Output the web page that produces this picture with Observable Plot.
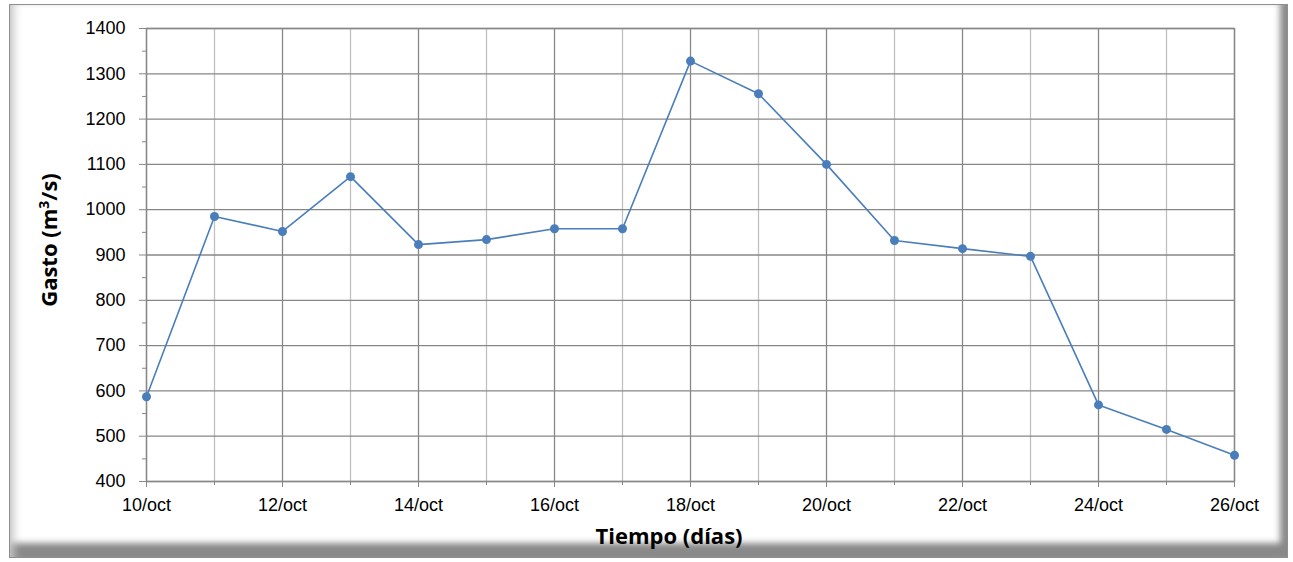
<!DOCTYPE html>
<html>
<head>
<meta charset="utf-8">
<script src="https://cdn.jsdelivr.net/npm/d3@7"></script>
<script src="https://cdn.jsdelivr.net/npm/@observablehq/plot@0.6"></script>
<style>
  html, body { margin: 0; padding: 0; background: #fff; }
  #wrap { position: relative; width: 1293px; height: 562px; overflow: hidden; }
  #bevel {
    position: absolute; left: 9px; top: 4px; width: 1279px; height: 554px;
    border: 1px solid #8f8f8f; box-sizing: border-box;
    box-shadow: inset 10px 0 8px -6px #c8c8c8, inset -11px 0 6px -4px #8a8a8a, inset 0 -18px 6px -4px #8a8a8a;
  }
  #chart { position: absolute; left: 0; top: 0; }
  .ttl { position: absolute; font-family: "Open Sans", sans-serif; font-weight: bold; font-size: 22px; color: #000; white-space: nowrap; line-height: 1; }
  #ylab { left: 48px; top: 240px; transform: translate(-50%, -50%) rotate(-90deg); }
  #xlab { left: 669px; top: 535px; transform: translate(-50%, -50%); }
</style>
</head>
<body>
<div id="wrap">
  <div id="bevel"></div>
  <div id="chart"></div>
  <div class="ttl" id="ylab">Gasto (m<sup style="font-size:14px;vertical-align:8px;line-height:0">3</sup>/s)</div>
  <div class="ttl" id="xlab">Tiempo (días)</div>
</div>
<script>
const days = [10, 11, 12, 13, 14, 15, 16, 17, 18, 19, 20, 21, 22, 23, 24, 25, 26];
const gasto = [587, 985, 952, 1073, 923, 934, 958, 958, 1328, 1256, 1100, 932, 914, 897, 569, 515, 458];
const yTicks = [400, 500, 600, 700, 800, 900, 1000, 1100, 1200, 1300, 1400];
const yMinor = [450, 550, 650, 750, 850, 950, 1050, 1150, 1250, 1350];
const xMajor = [10, 12, 14, 16, 18, 20, 22, 24, 26];
const xMinor = [11, 13, 15, 17, 19, 21, 23, 25];
const monthLabel = "oct";

const data = days.map((d, i) => ({day: d, gasto: gasto[i]}));

const plot = Plot.plot({
  width: 1293,
  height: 562,
  marginLeft: 146,
  marginRight: 59,
  marginTop: 28,
  marginBottom: 81,
  style: {background: "transparent", fontFamily: "'Liberation Sans', Arial, sans-serif", fontSize: "18px", color: "#000"},
  x: {domain: [10, 26]},
  y: {domain: [400, 1400]},
  marks: [
    Plot.gridX(xMinor, {stroke: "#c0c0c0", strokeOpacity: 1, strokeWidth: 1.3}),
    Plot.gridX(xMajor, {stroke: "#878787", strokeOpacity: 1, strokeWidth: 1.3}),
    Plot.gridY(yTicks, {stroke: "#878787", strokeOpacity: 1, strokeWidth: 1.3}),
    Plot.frame({stroke: "#878787", strokeWidth: 1.3}),
    Plot.axisY(yTicks, {tickSize: 7, tickPadding: 14, label: null, stroke: "#878787", fill: "#000", fontSize: 18, tickFormat: d => String(d)}),
    Plot.axisY(yMinor, {tickSize: 4, tickFormat: () => "", label: null, stroke: "#878787"}),
    Plot.axisX(xMajor, {tickSize: 6, tickPadding: 11, label: null, stroke: "#878787", fill: "#000", fontSize: 18, tickFormat: d => `${d}/${monthLabel}`}),
    Plot.axisX(xMinor, {tickSize: 4, tickFormat: () => "", label: null, stroke: "#878787"}),
    Plot.line(data, {x: "day", y: "gasto", stroke: "#4a7ebb", strokeWidth: 1.6}),
    Plot.dot(data, {x: "day", y: "gasto", r: 4.5, fill: "#4a7ebb", stroke: "none"})
  ]
});
document.getElementById("chart").append(plot);
</script>
</body>
</html>
